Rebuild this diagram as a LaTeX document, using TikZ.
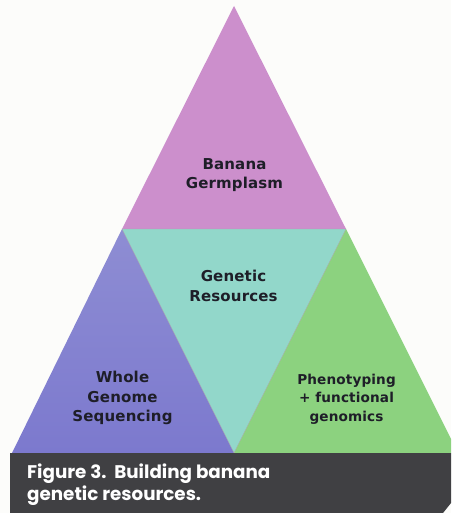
\documentclass[tikz,border=0pt]{standalone}
\usepackage{fontspec}
\setmainfont{Poppins}
\newfontfamily\labfont[LetterSpace=1]{DejaVu Sans}
\definecolor{bgc}{HTML}{FCFCFA}
\definecolor{magc}{HTML}{CC8FCC}
\definecolor{tealc}{HTML}{92D7CA}
\definecolor{purpc}{HTML}{7C79CE}
\definecolor{purpt}{HTML}{8E8DD3}
\definecolor{greenc}{HTML}{8CD27F}
\definecolor{capc}{HTML}{404043}
\definecolor{labc}{HTML}{1E1E28}
\tikzset{
  lab/.style={text=labc, align=center, font=\labfont\fontsize{15}{19.5}\selectfont\bfseries, inner sep=0pt},
  labsmall/.style={text=labc, align=center, font=\labfont\fontsize{13.6}{18.3}\selectfont\bfseries, inner sep=0pt},
  captxt/.style={text=white, anchor=base west, font=\fontsize{18.3}{22}\selectfont\bfseries, inner sep=0pt},
  triedge/.style={draw=black!35, line width=0.4pt}
}
\begin{document}
\begin{tikzpicture}[x=1pt,y=-1pt]
\useasboundingbox (0,0) rectangle (451,513);
\fill[bgc] (0,0) rectangle (451,513);
\coordinate (apex) at (234,6);
\coordinate (ml) at (122,229);
\coordinate (mr) at (346,229);
\coordinate (bl) at (12,453);
\coordinate (bm) at (234,453);
\coordinate (br) at (458,453);
\begin{scope}
\clip (0,0) rectangle (451,513);
\fill[magc] (apex) -- (ml) -- (mr) -- cycle;
\fill[tealc] (ml) -- (mr) -- (bm) -- cycle;
\shade[top color=purpt, bottom color=purpc] (ml) -- (bm) -- (bl) -- cycle;
\fill[greenc] (mr) -- (br) -- (bm) -- cycle;
\draw[triedge] (ml) -- (mr) -- (bm) -- cycle;
\end{scope}
\fill[capc] (10,453) -- (451,453) -- (451,503) -- (443,513) -- (10,513) -- cycle;
\node[lab] (germ) at (234.5,175) {Banana\\Germplasm};
\node[lab] (gen) at (233.5,286) {Genetic\\Resources};
\node[lab] (wgs) at (122.5,398) {Whole\\Genome\\Sequencing};
\node[labsmall] (phen) at (346.5,399) {Phenotyping\\+ functional\\genomics};
\node[captxt] (c1) at (27,478) {Figure 3.\ \ Building banana};
\node[captxt] (c2) at (27,500) {genetic resources.};
\end{tikzpicture}
\end{document}
